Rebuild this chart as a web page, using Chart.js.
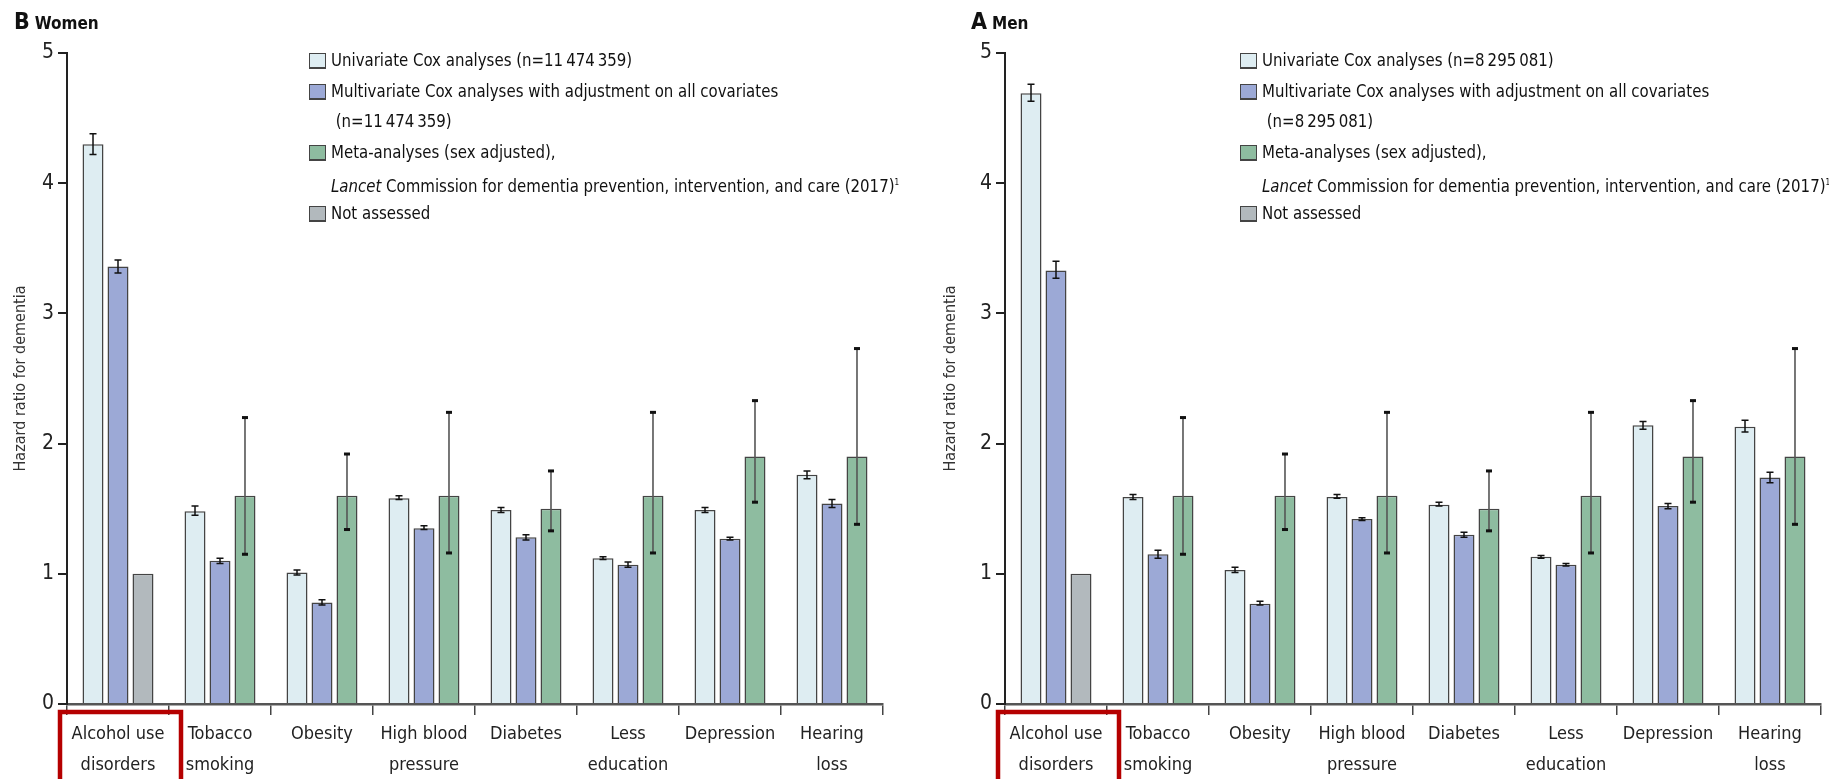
<!DOCTYPE html>
<html>
<head>
<meta charset="utf-8">
<script src="https://cdn.jsdelivr.net/npm/chart.js@4.4.1/dist/chart.umd.min.js"></script>
<style>
  html, body { margin:0; padding:0; background:#fff; }
  #page { position:relative; width:1829px; height:779px; overflow:hidden; background:#fff; }
  .panel { position:absolute; top:0; height:779px; }
  .ttl { position:absolute; top:8px; font-family:'Liberation Sans Narrow','DejaVu Sans Condensed','Open Sans',sans-serif; font-weight:bold; color:#111; white-space:nowrap; }
  .ttl .big { font-size:23px; margin-right:5px; }
  .ttl .sm { font-size:17px; }
  .legend { position:absolute; top:45px; font-family:'Liberation Sans Narrow','DejaVu Sans Condensed','Open Sans',sans-serif; font-size:18.5px; color:#111; line-height:30.5px; white-space:nowrap; }
  .legend .row { position:relative; padding-left:22px; height:30.5px; }
  .legend .txt { display:inline-block; transform:scaleX(0.9); transform-origin:0 50%; }
  .legend .box { position:absolute; left:0; top:8px; width:15px; height:13px; border:1.5px solid #444; border-bottom-width:2.5px; }
  .legend sup { font-size:9px; vertical-align:7px; }
</style>
</head>
<body>
<div id="page">
  <div class="panel" style="left:0;width:915px;"><canvas id="cW" width="915" height="779"></canvas></div>
  <div class="panel" style="left:915px;width:914px;"><canvas id="cM" width="914" height="779"></canvas></div>
  <div class="ttl" style="left:14px;"><span class="big">B</span><span class="sm">Women</span></div>
  <div class="ttl" style="left:971px;"><span class="big">A</span><span class="sm">Men</span></div>
  <div id="legW" class="legend" style="left:309px;"></div>
  <div id="legM" class="legend" style="left:1240px;"></div>
</div>
<script>
// ---------- data ----------
const categories = [["Alcohol use","disorders"],["Tobacco","smoking"],"Obesity",["High blood","pressure"],"Diabetes",["Less","education"],"Depression",["Hearing","loss"]];
const yTicks = [0,1,2,3,4,5];

const womenUni    = [4.30, 1.48, 1.01, 1.58, 1.49, 1.12, 1.49, 1.76];
const womenUniLo  = [4.22, 1.45, 0.99, 1.57, 1.47, 1.11, 1.47, 1.73];
const womenUniHi  = [4.38, 1.52, 1.03, 1.60, 1.51, 1.13, 1.51, 1.79];
const womenMulti  = [3.36, 1.10, 0.78, 1.35, 1.28, 1.07, 1.27, 1.54];
const womenMultiLo= [3.31, 1.08, 0.76, 1.34, 1.26, 1.05, 1.26, 1.51];
const womenMultiHi= [3.41, 1.12, 0.80, 1.37, 1.30, 1.09, 1.28, 1.57];

const menUni    = [4.69, 1.59, 1.03, 1.59, 1.53, 1.13, 2.14, 2.13];
const menUniLo  = [4.63, 1.57, 1.01, 1.58, 1.52, 1.12, 2.11, 2.09];
const menUniHi  = [4.76, 1.61, 1.05, 1.61, 1.55, 1.14, 2.17, 2.18];
const menMulti  = [3.33, 1.15, 0.77, 1.42, 1.30, 1.07, 1.52, 1.74];
const menMultiLo= [3.27, 1.12, 0.76, 1.41, 1.28, 1.06, 1.50, 1.70];
const menMultiHi= [3.40, 1.18, 0.79, 1.43, 1.32, 1.08, 1.54, 1.78];

const metaHR = [null, 1.60, 1.60, 1.60, 1.50, 1.60, 1.90, 1.90];
const metaLo = [null, 1.15, 1.34, 1.16, 1.33, 1.16, 1.55, 1.38];
const metaHi = [null, 2.20, 1.92, 2.24, 1.79, 2.24, 2.33, 2.73];

const notAssessed = [1, null, null, null, null, null, null, null];

const womenN = "11\u2009474\u2009359";
const menN = "8\u2009295\u2009081";

// ---------- styles ----------
const COL_UNI = '#deedf2', COL_MULTI = '#9ca9d6', COL_META = '#8ebca0', COL_NA = '#b2b9bd';
const FONT = "'Liberation Sans Narrow','DejaVu Sans Condensed','Open Sans',sans-serif";

const errorBars = {
  id: 'errorBars',
  afterDatasetsDraw(chart) {
    const ctx = chart.ctx, ys = chart.scales.y;
    chart.data.datasets.forEach((ds, i) => {
      if (!ds.errLo) return;
      const meta = chart.getDatasetMeta(i);
      meta.data.forEach((bar, j) => {
        if (ds.errLo[j] == null) return;
        const x = bar.x, y1 = ys.getPixelForValue(ds.errLo[j]), y2 = ys.getPixelForValue(ds.errHi[j]);
        ctx.save();
        if (ds.errStyle === 'meta') {
          ctx.strokeStyle = '#555'; ctx.lineWidth = 1.6;
          ctx.beginPath(); ctx.moveTo(x, y1); ctx.lineTo(x, y2); ctx.stroke();
          ctx.fillStyle = '#111';
          ctx.fillRect(x - 3, y2 - 1.5, 6, 3);
          ctx.fillRect(x - 3, y1 - 1.5, 6, 3);
        } else {
          ctx.strokeStyle = '#111'; ctx.lineWidth = 1.5;
          ctx.beginPath(); ctx.moveTo(x, y1); ctx.lineTo(x, y2);
          ctx.moveTo(x - 3.5, y1); ctx.lineTo(x + 3.5, y1);
          ctx.moveTo(x - 3.5, y2); ctx.lineTo(x + 3.5, y2);
          ctx.stroke();
        }
        ctx.restore();
      });
    });
  }
};

const redBox = {
  id: 'redBox',
  afterDraw(chart) {
    const xs = chart.scales.x, ctx = chart.ctx;
    const c = xs.getPixelForValue(0);
    const half = xs.width / chart.data.labels.length / 2;
    const left = c - half - 7, right = c + half + 12, top = xs.top + 8;
    ctx.save();
    ctx.strokeStyle = '#b50000'; ctx.lineWidth = 4.5;
    ctx.beginPath();
    ctx.moveTo(left, chart.height + 10); ctx.lineTo(left, top); ctx.lineTo(right, top); ctx.lineTo(right, chart.height + 10);
    ctx.stroke();
    ctx.restore();
  }
};

function makeChart(id, uni, uniLo, uniHi, multi, multiLo, multiHi, pad, yWidth) {
  const barCommon = { borderColor: '#444', borderWidth: 1.5, categoryPercentage: 0.735, barPercentage: 0.84 };
  return new Chart(document.getElementById(id), {
    type: 'bar',
    data: {
      labels: categories,
      datasets: [
        Object.assign({ label: 'Univariate', data: uni, backgroundColor: COL_UNI, errLo: uniLo, errHi: uniHi }, barCommon),
        Object.assign({ label: 'Multivariate', data: multi, backgroundColor: COL_MULTI, errLo: multiLo, errHi: multiHi }, barCommon),
        Object.assign({ label: 'Meta', data: metaHR, backgroundColor: COL_META, errLo: metaLo, errHi: metaHi, errStyle: 'meta' }, barCommon),
        Object.assign({ label: 'Not assessed', data: notAssessed, backgroundColor: COL_NA }, barCommon)
      ]
    },
    options: {
      responsive: false,
      animation: false,
      devicePixelRatio: 1,
      skipNull: true,
      layout: { padding: pad },
      plugins: { legend: { display: false }, tooltip: { enabled: false } },
      scales: {
        x: {
          grid: { offset: true, drawOnChartArea: false, drawTicks: true, tickLength: 11, color: '#444', lineWidth: 1.5 },
          border: { display: true, color: '#555', width: 2.5 },
          ticks: { autoSkip: false, maxRotation: 0, padding: 4, color: '#222', font: { family: FONT, size: 18, lineHeight: 1.7 } },
          afterFit: s => { s.height = 75; }
        },
        y: {
          min: 0, max: 5,
          afterBuildTicks: s => { s.ticks = yTicks.map(v => ({ value: v })); },
          grid: { drawOnChartArea: false, drawTicks: true, tickLength: 9, color: '#222', lineWidth: 2 },
          border: { display: true, color: '#222', width: 2 },
          ticks: { padding: 4, color: '#222', font: { family: FONT, size: 21 } },
          title: { display: true, text: 'Hazard ratio for dementia', color: '#333', padding: { top: 11, bottom: 0 }, font: { family: FONT, size: 16 } },
          afterFit: s => { s.width = yWidth; }
        }
      }
    },
    plugins: [errorBars, redBox]
  });
}

makeChart('cW', womenUni, womenUniLo, womenUniHi, womenMulti, womenMultiLo, womenMultiHi, { left: 0, right: 32, top: 53, bottom: 0 }, 67);
makeChart('cM', menUni, menUniLo, menUniHi, menMulti, menMultiLo, menMultiHi, { left: 15, right: 8, top: 53, bottom: 0 }, 75);

function buildLegend(el, n) {
  const rows = [
    [COL_UNI, 'Univariate Cox analyses (n=' + n + ')'],
    [COL_MULTI, 'Multivariate Cox analyses with adjustment on all covariates'],
    [null, '&nbsp;(n=' + n + ')'],
    [COL_META, 'Meta-analyses (sex adjusted),'],
    [null, '<i>Lancet</i> Commission for dementia prevention, intervention, and care (2017)<sup>1</sup>'],
    [COL_NA, 'Not assessed']
  ];
  el.innerHTML = rows.map(r => '<div class="row">' + (r[0] ? '<span class="box" style="background:' + r[0] + '"></span>' : '') + '<span class="txt">' + r[1] + '</span></div>').join('');
}
buildLegend(document.getElementById('legW'), womenN);
buildLegend(document.getElementById('legM'), menN);
</script>
</body>
</html>
